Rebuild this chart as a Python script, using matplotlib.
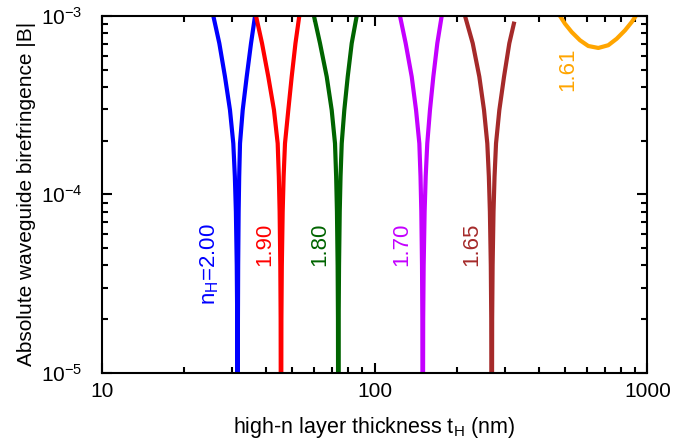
import matplotlib
matplotlib.use("Agg")
import matplotlib.pyplot as plt
from matplotlib.ticker import LogLocator, NullFormatter, FixedLocator

plt.rcParams['font.family'] = ['Liberation Sans', 'DejaVu Sans']
plt.rcParams['mathtext.fontset'] = 'custom'
plt.rcParams['mathtext.rm'] = 'Liberation Sans'
plt.rcParams['mathtext.it'] = 'Liberation Sans'

# |B| levels at which the V-shaped curves were read (down one branch, back up the other)
b_v = [1.0e-3, 7.03e-4, 4.57e-4, 2.97e-4, 1.93e-4, 1.26e-4, 8e-5, 4e-5, 2e-5, 1e-6,
       2e-5, 4e-5, 8e-5, 1.26e-4, 1.93e-4, 2.97e-4, 4.57e-4, 7.03e-4, 1.0e-3]

# thickness t_H (nm) at those levels
t_200 = [25.66, 26.99, 28.31, 29.53, 30.37, 30.77, 31.04, 31.27, 31.39, 31.51,
         31.58, 31.64, 31.77, 31.92, 32.14, 32.88, 34.01, 35.27, 36.48]
t_190 = [36.79, 38.70, 40.80, 42.81, 44.17, 44.60, 44.90, 45.16, 45.29, 45.42,
         45.58, 45.74, 46.07, 46.44, 46.98, 48.31, 49.72, 51.32, 53.0]
t_180 = [60.0, 63.13, 66.81, 69.68, 71.65, 72.35, 72.84, 73.26, 73.47, 73.68,
         73.90, 74.13, 74.57, 75.08, 75.83, 77.51, 79.77, 82.5, 86.05]
t_170 = [124.0, 130.1, 136.9, 142.0, 146.0, 147.46, 148.46, 149.33, 149.76, 150.2,
         150.81, 151.42, 152.65, 154.05, 156.1, 159.7, 164.3, 169.9, 176.3]
t_165 = [214.7, 229.1, 242.2, 252.0, 259.1, 262.5, 264.83, 266.87, 267.88, 268.9,
         269.94, 270.97, 273.05, 275.43, 278.9, 286.8, 298.4, 312.0, 325.5]
b_165 = b_v[:-1] + [9.3e-4]

# n_H = 1.61 only dips just below 1e-3
t_161 = [478.6, 499.2, 528.2, 566.6, 607.6, 661.4, 719.5, 772.4, 828.3, 876.5, 907.0]
b_161 = [1.0e-3, 9.05e-4, 8.13e-4, 7.31e-4, 6.79e-4, 6.62e-4, 6.86e-4, 7.46e-4, 8.31e-4, 9.25e-4, 1.0e-3]

curves = [(t_200, b_v, "#0000ff"), (t_190, b_v, "#ff0000"), (t_180, b_v, "#006400"),
          (t_170, b_v, "#c400ff"), (t_165, b_165, "#a52a2a"), (t_161, b_161, "#ffa500")]

# label text, position (t, |B| of top end), colour
labels = [(r"n$_\mathrm{H}$=2.00", 24.9, 6.9e-5, "#0000ff"),
          ("1.90", 39.7, 6.9e-5, "#ff0000"),
          ("1.80", 63.0, 6.9e-5, "#006400"),
          ("1.70", 126.0, 6.9e-5, "#c400ff"),
          ("1.65", 227.0, 6.9e-5, "#a52a2a"),
          ("1.61", 512.0, 6.7e-4, "#ffa500")]

fig = plt.figure(figsize=(6.95, 4.4), dpi=100)
ax = fig.add_axes([0.1463, 0.1530, 0.7851, 0.8106])

for t, b, c in curves:
    ax.plot(t, b, color=c, linewidth=3, solid_joinstyle="round", solid_capstyle="butt")

for txt, x, y, c in labels:
    ax.text(x, y, txt, color=c, fontsize=16, rotation=90, ha="center", va="top")

ax.set_xscale("log")
ax.set_yscale("log")
ax.set_xlim(10, 1000)
ax.set_ylim(1e-5, 1e-3)

ax.xaxis.set_major_locator(FixedLocator([10, 100, 1000]))
ax.xaxis.set_minor_locator(LogLocator(base=10, subs=range(2, 10)))
ax.xaxis.set_minor_formatter(NullFormatter())
ax.set_xticklabels(["10", "100", "1000"])
ax.yaxis.set_major_locator(FixedLocator([1e-5, 1e-4, 1e-3]))
ax.yaxis.set_minor_locator(LogLocator(base=10, subs=range(2, 10)))
ax.yaxis.set_minor_formatter(NullFormatter())
ax.set_yticklabels([r"10$^{-5}$", r"10$^{-4}$", r"10$^{-3}$"])

ax.tick_params(which="both", direction="in", top=True, right=True, width=1.5, labelsize=15)
ax.tick_params(which="major", length=7)
ax.tick_params(which="minor", length=4.5)
ax.tick_params(axis="x", pad=7)
ax.tick_params(axis="y", pad=14)
for s in ax.spines.values():
    s.set_linewidth(1.5)

ax.set_xlabel(r"high-n layer thickness t$_\mathrm{H}$ (nm)", fontsize=15.5, labelpad=10)
ax.set_ylabel("Absolute waveguide birefringence |B|", fontsize=15, labelpad=3)

fig.savefig("out.png", dpi=100)
